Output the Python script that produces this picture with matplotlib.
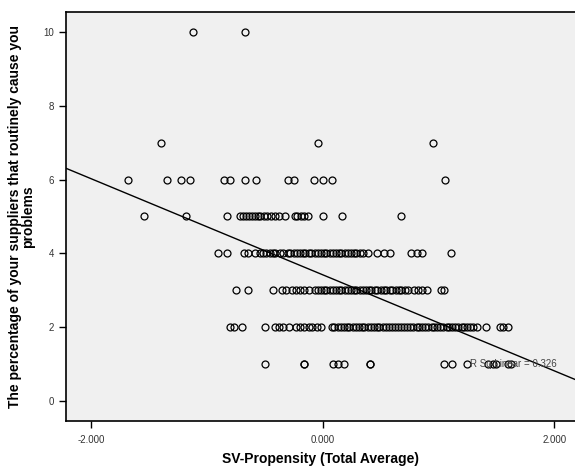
import numpy as np
import matplotlib.pyplot as plt

plt.rcParams['font.family'] = ['Liberation Sans', 'DejaVu Sans']

# SV-Propensity values for each response level
x_y10 = [-1.12, -0.67]
x_y7 = [-1.40, -0.04, 0.95]
x_y6 = [-1.68, -1.35, -1.23, -1.15, -0.85, -0.80, -0.67, -0.58, -0.30, -0.25,
        -0.08, 0.00, 0.08, 1.06]
x_y5 = [-1.55, -1.18, -0.83, -0.72, -0.69, -0.66, -0.64, -0.61, -0.59, -0.56,
        -0.54, -0.51, -0.48, -0.45, -0.41, -0.38, -0.33, -0.24, -0.22, -0.19,
        -0.16, -0.13, 0.00, 0.17, 0.68]
x_y4 = [-0.91, -0.83, -0.68, -0.65, -0.59, -0.54, -0.52, -0.49, -0.46, -0.43,
        -0.41, -0.37, -0.34, -0.30, -0.28, -0.25, -0.22, -0.20, -0.17, -0.15,
        -0.12, -0.10, -0.07, -0.04, -0.02, 0.01, 0.03, 0.06, 0.09, 0.11,
        0.14, 0.16, 0.19, 0.22, 0.24, 0.27, 0.29, 0.32, 0.35, 0.39,
        0.47, 0.53, 0.58, 0.76, 0.81, 0.86, 1.11]
x_y3 = [-0.75, -0.65, -0.43, -0.35, -0.32, -0.27, -0.23, -0.20, -0.16, -0.12,
        -0.07, -0.04, -0.02, 0.01, 0.03, 0.06, 0.09, 0.11, 0.14, 0.16,
        0.19, 0.22, 0.24, 0.27, 0.29, 0.32, 0.35, 0.37, 0.40, 0.42,
        0.45, 0.47, 0.50, 0.53, 0.55, 0.58, 0.60, 0.63, 0.66, 0.68,
        0.71, 0.74, 0.79, 0.82, 0.86, 0.90, 1.02, 1.05]
x_y2 = [-0.80, -0.77, -0.70, -0.50, -0.41, -0.38, -0.34, -0.29, -0.23, -0.20,
        -0.16, -0.12, -0.09, -0.05, -0.02, 0.08, 0.10, 0.13, 0.16, 0.18,
        0.21, 0.23, 0.26, 0.29, 0.31, 0.34, 0.36, 0.39, 0.42, 0.44,
        0.47, 0.49, 0.52, 0.55, 0.57, 0.60, 0.62, 0.65, 0.68, 0.70,
        0.73, 0.75, 0.78, 0.81, 0.83, 0.86, 0.88, 0.91, 0.94, 0.96,
        0.99, 1.01, 1.04, 1.07, 1.09, 1.12, 1.14, 1.17, 1.20, 1.22,
        1.25, 1.27, 1.30, 1.33, 1.41, 1.53, 1.56, 1.60]
x_y1 = [-0.50, -0.16, -0.16, 0.09, 0.13, 0.18, 0.41, 0.41, 1.05, 1.12,
        1.25, 1.43, 1.47, 1.50, 1.60, 1.63]

levels = [10, 7, 6, 5, 4, 3, 2, 1]
groups = [x_y10, x_y7, x_y6, x_y5, x_y4, x_y3, x_y2, x_y1]

# fit line as shown
fit_intercept = 3.42
fit_slope = -1.30
r_sq = 0.326

x_ticks = [-2, 0, 2]
y_ticks = [0, 2, 4, 6, 8, 10]

fig = plt.figure(figsize=(5.75, 4.68), dpi=100)
ax = fig.add_axes([66 / 575, 1 - 421 / 468, 509 / 575, 409 / 468])
ax.set_facecolor('#f0f0f0')

for lev, xs in zip(levels, groups):
    ax.plot(xs, [lev] * len(xs), linestyle='none', marker='o', ms=5,
            mfc='none', mec='black', mew=0.9)

xlim = (-2.22, 2.18)
xl = np.array(xlim)
ax.plot(xl, fit_intercept + fit_slope * xl, color='black', lw=1)
ax.text(1.27, 1, f'R Sq Linear = {r_sq:.3f}', fontsize=7, color='#444444',
        va='center', ha='left')

ax.set_xlim(*xlim)
ax.set_ylim(-0.54, 10.54)
ax.set_xticks(x_ticks)
ax.set_xticklabels([f'{t:.3f}' for t in x_ticks])
ax.set_yticks(y_ticks)

for s in ['top', 'left', 'bottom']:
    ax.spines[s].set_linewidth(1.2)
ax.spines['right'].set_visible(False)
ax.tick_params(axis='both', direction='out', length=5, width=1,
               labelsize=7, labelcolor='#333333')
ax.tick_params(axis='x', pad=5)

ax.set_xlabel('SV-Propensity (Total Average)', fontsize=10, fontweight='bold')
ax.xaxis.set_label_coords(0.5, -0.075)
ax.set_ylabel('The percentage of your suppliers that routinely cause you\nproblems',
              fontsize=10, fontweight='bold', linespacing=0.9)
ax.yaxis.set_label_coords(-0.061, 0.5)

fig.savefig('out.png', dpi=100)
